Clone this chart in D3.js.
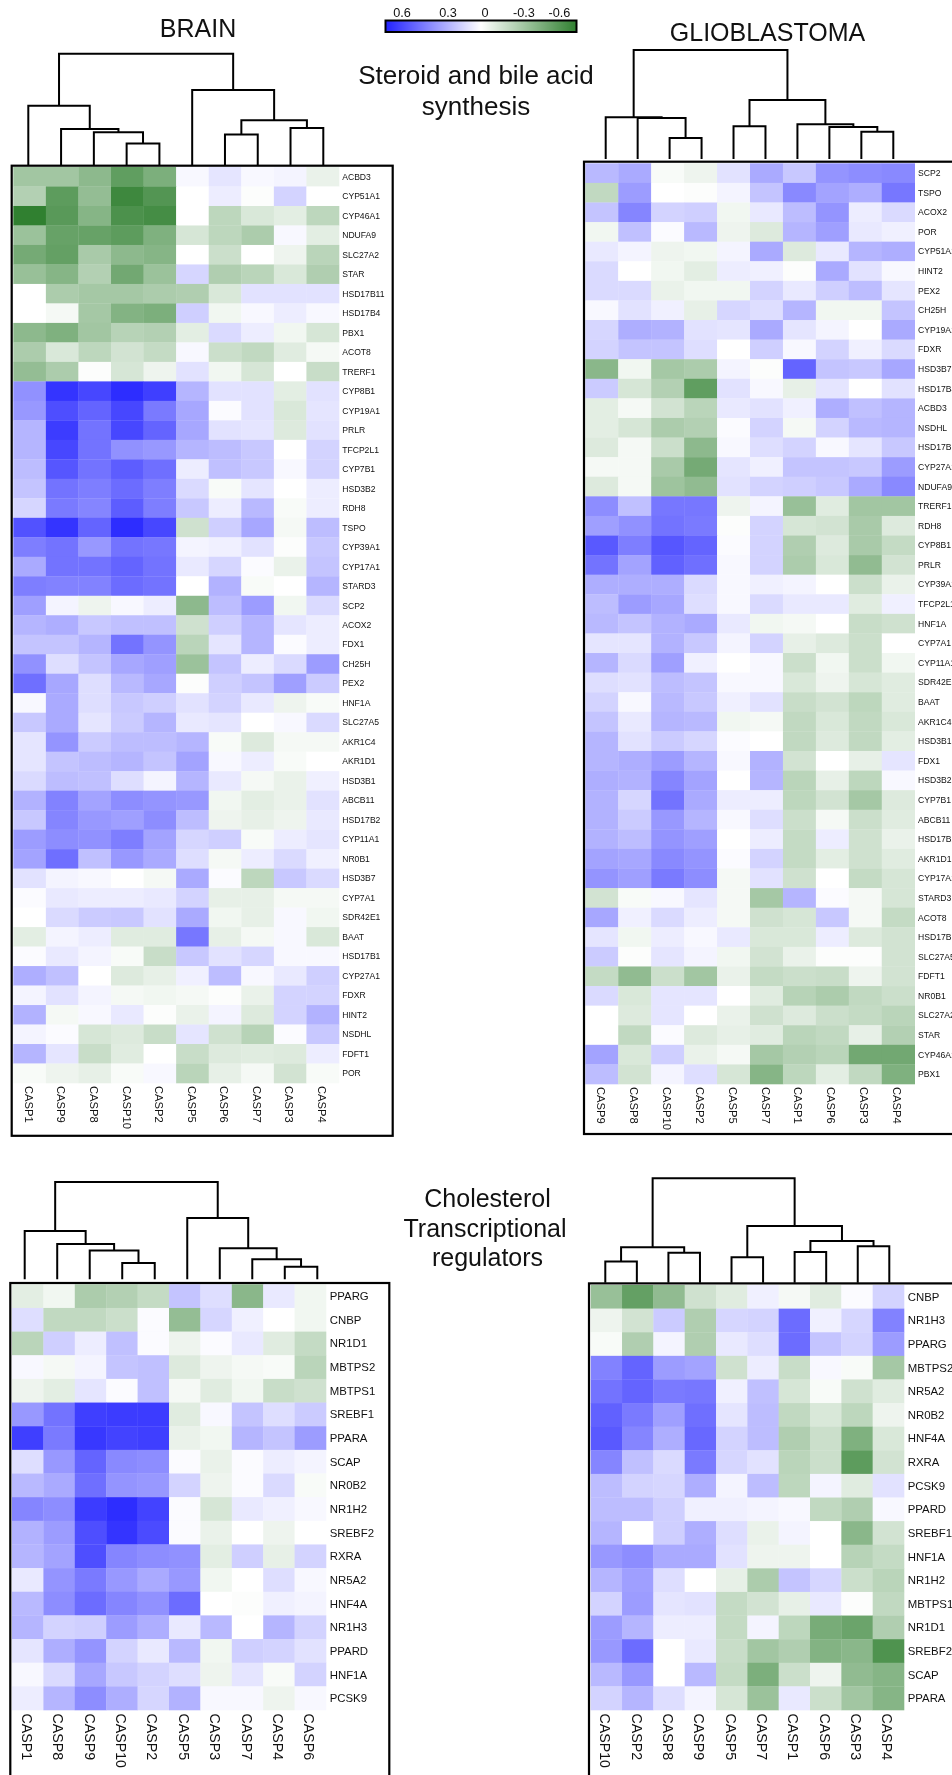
<!DOCTYPE html>
<html>
	<head>
		<meta charset="utf-8">
		<script src="https://cdnjs.cloudflare.com/ajax/libs/d3/7.8.5/d3.min.js"></script>
		<style>
			html, body{
				margin: 0;
				padding: 0;
				background: white;
			}
			svg{
				display: block;
				filter: blur(0.4px);
			}
			text{
				font-family: "Liberation Sans", Arial, sans-serif;
				fill: #111;
			}
			.frame{
				fill: none;
				stroke: #000;
				stroke-width: 2.2px;
			}
			.tree{
				fill: none;
				stroke: #000;
				stroke-width: 2px;
			}
		</style>
	</head>
	<body>
		<svg width="952" height="1775"></svg>
		<script>
			// positive = blue, negative = green
			var brainCols = ["CASP1","CASP9","CASP8","CASP10","CASP2","CASP5","CASP6","CASP7","CASP3","CASP4"];
			var brainRows = ["ACBD3","CYP51A1","CYP46A1","NDUFA9","SLC27A2","STAR","HSD17B11","HSD17B4","PBX1","ACOT8","TRERF1","CYP8B1","CYP19A1","PRLR","TFCP2L1","CYP7B1","HSD3B2","RDH8","TSPO","CYP39A1","CYP17A1","STARD3","SCP2","ACOX2","FDX1","CH25H","PEX2","HNF1A","SLC27A5","AKR1C4","AKR1D1","HSD3B1","ABCB11","HSD17B2","CYP11A1","NR0B1","HSD3B7","CYP7A1","SDR42E1","BAAT","HSD17B1","CYP27A1","FDXR","HINT2","NSDHL","FDFT1","POR"];
			var brainValues = [
				[-.27,-.27,-.33,-.46,-.38,.02,.07,.02,.03,-.06],
				[-.22,-.47,-.31,-.56,-.5,0,.05,-.01,.12,0],
				[-.6,-.48,-.35,-.52,-.54,0,-.19,-.11,-.08,-.19],
				[-.29,-.44,-.44,-.47,-.37,-.12,-.19,-.24,.02,-.08],
				[-.4,-.45,-.25,-.33,-.35,0,-.15,0,-.05,-.2],
				[-.3,-.35,-.22,-.41,-.29,.11,-.23,-.2,-.11,-.23],
				[0,-.24,-.26,-.26,-.24,-.23,-.11,.08,.08,.08],
				[0,-.03,-.26,-.36,-.38,.13,-.04,.02,.05,.02],
				[-.33,-.37,-.27,-.21,-.22,-.08,.1,.05,-.04,-.12],
				[-.24,-.11,-.19,-.13,-.17,.02,-.15,-.18,-.09,-.03],
				[-.31,-.24,-.01,-.12,-.05,.08,-.04,-.12,0,-.16],
				[.3,.55,.5,.57,.52,.2,.08,.08,-.08,.08],
				[.28,.48,.42,.5,.36,.24,.01,.08,-.11,.07],
				[.2,.53,.38,.5,.42,.24,.08,.07,-.1,.08],
				[.2,.5,.38,.3,.28,.2,.18,.15,0,.12],
				[.18,.46,.38,.44,.39,.05,.17,.15,.02,.12],
				[.16,.38,.35,.4,.35,.1,-.02,.07,0,.05],
				[.11,.36,.33,.44,.35,.15,.05,.19,-.02,.05],
				[.47,.55,.42,.57,.5,-.14,.13,.24,-.03,.18],
				[.35,.38,.28,.38,.37,.03,.04,.08,-.01,.15],
				[.23,.38,.38,.42,.38,.06,.11,.01,-.06,.16],
				[.35,.34,.34,.4,.38,0,.21,-.02,0,.2],
				[.26,.03,-.05,.02,.05,-.33,.18,.27,-.04,.1],
				[.2,.22,.15,.17,.17,-.14,.13,.2,.07,.05],
				[.16,.16,.2,.38,.29,-.2,.07,.2,.01,.05],
				[.3,.09,.16,.24,.26,-.29,.16,.05,.1,.27],
				[.39,.24,.09,.19,.24,-.01,.13,.16,.26,.14],
				[.02,.23,.09,.15,.13,.08,.12,.06,-.05,-.02],
				[.15,.23,.07,.14,.2,.06,.07,0,.02,.1],
				[.07,.29,.14,.18,.18,.2,-.02,-.1,-.03,-.03],
				[.07,.16,.18,.2,.16,.25,.02,.05,-.02,0],
				[.1,.18,.17,.09,.03,.2,.06,-.03,-.06,.04],
				[.21,.34,.25,.31,.29,.28,-.04,-.08,-.06,.08],
				[.15,.33,.28,.26,.31,.18,-.05,-.07,-.05,.06],
				[.27,.31,.3,.35,.25,.11,.13,-.02,.05,.07],
				[.25,.39,.17,.28,.23,.09,-.03,.05,.1,.04],
				[.08,.03,.02,0,-.03,.23,.01,-.19,.15,.1],
				[.01,.06,.05,.05,.06,.12,-.07,-.07,-.03,-.03],
				[0,.1,.14,.15,.08,.23,-.04,-.07,.02,-.04],
				[-.08,.03,.05,-.09,-.09,.37,-.07,-.03,.02,-.11],
				[.01,.06,.03,-.02,-.16,.15,.08,.11,.02,.02],
				[.22,.17,0,-.1,-.07,.04,.18,.02,.06,.13],
				[.03,.08,.03,-.03,-.04,-.03,-.01,-.06,.12,.12],
				[.21,-.03,.02,.06,-.01,-.06,.03,-.1,.12,.21],
				[.03,.01,-.12,-.1,-.16,.07,-.14,-.21,.01,.15],
				[.2,.07,-.16,-.09,0,-.16,-.1,-.09,-.1,.05],
				[-.02,-.05,-.07,-.02,.02,-.2,-.07,-.03,-.13,-.02]
			];
			// nested merges: [distance, left, right], numbers are leaves
			var brainTree = [1,[.533,0,[.324,1,[.295,2,[.193,3,4]]]],[.673,5,[.402,[.274,6,7],[.333,8,9]]]];

			var gbmCols = ["CASP9","CASP8","CASP10","CASP2","CASP5","CASP7","CASP1","CASP6","CASP3","CASP4"];
			var gbmRows = ["SCP2","TSPO","ACOX2","POR","CYP51A1","HINT2","PEX2","CH25H","CYP19A1","FDXR","HSD3B7","HSD17B4","ACBD3","NSDHL","HSD17B11","CYP27A1","NDUFA9","TRERF1","RDH8","CYP8B1","PRLR","CYP39A1","TFCP2L1","HNF1A","CYP7A1","CYP11A1","SDR42E1","BAAT","AKR1C4","HSD3B1","FDX1","HSD3B2","CYP7B1","ABCB11","HSD17B2","AKR1D1","CYP17A1","STARD3","ACOT8","HSD17B1","SLC27A5","FDFT1","NR0B1","SLC27A2","STAR","CYP46A1","PBX1"];
			var gbmValues = [
				[.19,.23,-.02,-.05,.08,.23,.15,.29,.31,.32],
				[-.18,.27,0,-.01,.03,.16,.32,.25,.22,.37],
				[.16,.33,.12,.13,-.04,.06,.18,.29,.05,.1],
				[-.04,.17,.01,.19,-.05,-.1,.2,.26,.06,.04],
				[.06,.03,-.05,-.04,.03,.23,-.1,.06,.2,.22],
				[.1,0,-.04,-.08,.05,.04,-.01,.23,.08,.02],
				[.1,.1,-.06,-.04,-.04,.12,.06,.13,.18,.07],
				[.02,.08,.04,-.07,.11,.09,.2,-.04,-.04,.16],
				[.11,.22,.21,.08,.07,.23,.07,.03,0,.23],
				[.12,.16,.16,.09,0,.13,.02,.12,.04,.1],
				[-.34,-.04,-.26,-.24,.03,-.01,.42,.16,.15,.24],
				[.14,-.12,-.22,-.46,.08,.02,-.07,.07,0,.08],
				[-.08,-.03,-.13,-.2,.06,.08,.04,.22,.17,.2],
				[-.08,-.12,-.24,-.22,.01,.12,-.03,.12,.19,.2],
				[-.1,-.03,-.15,-.33,.02,.09,.12,.02,.07,.15],
				[-.03,-.03,-.25,-.4,.07,.04,.16,.16,.15,.27],
				[-.1,-.03,-.28,-.32,.08,.12,.13,.15,.23,.32],
				[.31,.17,.37,.37,-.05,.03,-.3,-.09,-.27,-.27],
				[.26,.3,.38,.36,-.01,.12,-.12,-.13,-.25,-.1],
				[.45,.35,.46,.42,.01,.12,-.23,-.1,-.25,-.17],
				[.38,.25,.43,.39,.02,.12,-.24,-.11,-.32,-.13],
				[.22,.22,.22,.1,.02,.04,.03,0,-.15,-.06],
				[.18,.27,.24,.09,.02,.1,.06,.06,-.09,.04],
				[.19,.16,.21,.23,.06,-.04,-.03,0,-.16,-.14],
				[.07,.07,.21,.15,.03,.12,-.07,-.1,-.15,0],
				[.2,.1,.26,.04,0,.02,-.15,-.04,-.15,-.04],
				[.09,.08,.18,.16,.02,.02,-.11,-.05,-.12,-.09],
				[.12,.02,.19,.15,.04,.08,-.16,-.13,-.19,-.09],
				[.16,.06,.2,.19,-.04,-.03,-.18,-.11,-.18,-.11],
				[.2,.08,.14,.11,.01,0,-.18,-.1,-.18,-.08],
				[.2,.22,.27,.2,.02,.21,-.13,0,-.07,.07],
				[.22,.21,.33,.25,0,.2,-.2,-.07,-.19,.02],
				[.21,.11,.38,.23,.05,.05,-.19,-.13,-.26,-.1],
				[.21,.14,.28,.2,.02,.09,-.15,-.03,-.15,-.09],
				[.21,.18,.29,.26,0,.05,-.17,.05,-.14,-.06],
				[.25,.24,.32,.29,.01,.12,-.17,-.08,-.14,-.09],
				[.29,.26,.36,.31,-.03,.08,-.14,0,-.17,-.12],
				[-.13,-.02,.02,.07,-.03,-.26,.2,.01,-.03,-.12],
				[.24,.04,.1,.05,-.03,-.14,-.12,.15,-.03,-.17],
				[.07,-.04,.05,.02,.06,-.11,-.11,.05,-.1,-.13],
				[.14,-.01,.07,.03,-.04,-.13,-.06,-.01,-.01,-.13],
				[-.17,-.32,-.15,-.27,-.06,-.17,-.15,-.16,-.05,-.13],
				[.1,-.11,.07,.07,0,-.09,-.21,-.24,-.18,-.15],
				[0,-.1,.07,0,-.06,-.14,-.1,-.15,-.17,-.2],
				[0,-.18,.01,-.1,-.07,-.09,-.2,-.18,-.07,-.22],
				[.25,-.11,.13,-.06,-.03,-.26,-.22,-.2,-.41,-.41],
				[.18,-.13,.03,.09,-.12,-.35,-.19,-.08,-.18,-.37]
			];
			var gbmTree = [1,[.382,0,[.376,1,[.193,2,3]]],[.541,[.3,4,5],[.318,6,[.294,7,[.251,8,9]]]]];

			var cholBrainCols = ["CASP1","CASP8","CASP9","CASP10","CASP2","CASP5","CASP3","CASP7","CASP4","CASP6"];
			var cholBrainRows = ["PPARG","CNBP","NR1D1","MBTPS2","MBTPS1","SREBF1","PPARA","SCAP","NR0B2","NR1H2","SREBF2","RXRA","NR5A2","HNF4A","NR1H3","PPARD","HNF1A","PCSK9"];
			var cholBrainValues = [
				[-.08,-.04,-.24,-.22,-.17,.16,.09,-.34,.06,-.04],
				[.09,-.18,-.18,-.15,.01,-.31,.11,.04,0,-.04],
				[-.2,.13,.05,.17,.01,-.05,.01,.06,-.09,-.17],
				[.02,-.03,.03,.16,.17,-.1,-.05,-.03,-.02,-.2],
				[-.05,-.08,.07,.01,.17,-.03,-.09,-.04,-.16,-.14],
				[.28,.38,.52,.53,.53,-.09,.02,.16,.09,.14],
				[.52,.36,.54,.51,.52,-.06,-.04,.2,.16,.27],
				[.09,.28,.42,.32,.31,.01,-.06,.01,.05,.03],
				[.19,.23,.39,.29,.28,.12,-.05,.01,.1,-.02],
				[.33,.31,.53,.57,.51,.01,-.12,.06,.04,.02],
				[.21,.27,.48,.55,.49,.01,-.06,0,-.05,0],
				[.2,.25,.48,.33,.31,.3,-.08,.13,-.07,.12],
				[.06,.29,.36,.28,.23,.28,-.04,0,.09,.02],
				[.19,.31,.4,.33,.3,.4,0,-.01,.04,.03],
				[.2,.12,.13,.27,.22,.06,.19,0,.2,.12],
				[.07,.22,.29,.12,.06,.19,-.04,.13,.12,.08],
				[.02,.1,.24,.15,.12,.09,-.05,.07,-.02,.12],
				[.05,.2,.31,.22,.11,.21,.02,.02,-.05,.02]
			];
			var cholBrainTree = [1,[.497,0,[.363,1,[.295,2,[.168,3,4]]]],[.63,5,[.318,6,[.205,7,[.13,8,9]]]]];

			var cholGbmCols = ["CASP10","CASP2","CASP8","CASP9","CASP5","CASP7","CASP1","CASP6","CASP3","CASP4"];
			var cholGbmRows = ["CNBP","NR1H3","PPARG","MBTPS2","NR5A2","NR0B2","HNF4A","RXRA","PCSK9","PPARD","SREBF1","HNF1A","NR1H2","MBTPS1","NR1D1","SREBF2","SCAP","PPARA"];
			var cholGbmValues = [
				[-.3,-.45,-.32,-.14,-.09,.04,-.03,-.09,.01,.12],
				[-.05,-.13,.14,-.23,.11,.12,.4,.04,.11,.34],
				[-.02,-.23,.03,-.23,.06,.09,.4,.16,.12,.27],
				[.34,.42,.27,.25,-.14,.05,-.16,.02,-.02,-.26],
				[.38,.42,.36,.37,.04,.17,-.12,-.02,-.14,-.09],
				[.43,.36,.26,.39,.07,.18,-.18,-.11,-.19,-.05],
				[.45,.33,.22,.41,.12,.18,-.23,-.15,-.37,-.11],
				[.33,.17,.1,.36,.11,.08,-.2,-.15,-.47,-.13],
				[.18,.12,.11,.22,.03,.18,-.19,.03,-.09,.08],
				[.18,.18,.13,.04,.04,.03,.02,-.18,-.23,.02],
				[.2,0,.13,.22,.09,-.06,.03,0,-.34,-.13],
				[.28,.31,.23,.23,.08,-.05,-.05,0,-.21,-.17],
				[.2,.26,.09,0,-.07,-.24,.16,.11,-.15,-.2],
				[.12,.27,.07,.08,-.17,-.13,-.07,.06,-.01,-.18],
				[.27,.2,.05,.05,-.17,.03,-.19,-.39,-.43,-.23],
				[.28,.4,0,.06,-.16,-.27,-.23,-.36,-.34,-.51],
				[.19,.28,0,.19,-.17,-.38,-.15,-.05,-.32,-.35],
				[.12,.2,.09,.03,-.12,-.29,.06,-.15,-.27,-.35]
			];
			var cholGbmTree = [1,[.339,[.204,0,1],[.288,2,3]],[.543,[.243,4,5],[.399,[.294,6,7],[.348,8,9]]]];

			var legendTicks = [0.6, 0.3, 0, -0.3, -0.6];
			var legendLabels = ["0.6", "0.3", "0", "-0.3", "-0.6"];

			var svg = d3.select("svg");
			var color = d3.scaleLinear().domain([0.6, 0, -0.6]).range(["#2222ff", "#ffffff", "#308030"]);

			function drawTree(g, node, xScale, yScale){
				if(typeof node === "number"){
					return {x: xScale(node), y: yScale(0)};
				}
				var left = drawTree(g, node[1], xScale, yScale);
				var right = drawTree(g, node[2], xScale, yScale);
				var y = yScale(node[0]);
				g.append("path")
					.attr("class", "tree")
					.attr("d", d3.line()([[left.x, left.y], [left.x, y], [right.x, y], [right.x, right.y]]));
				return {x: (left.x + right.x) / 2, y: y};
			}

			function drawPanel(opt){
				var g = svg.append("g");
				var x = d3.scaleBand().domain(opt.cols).range(opt.cellX);
				var y = d3.scaleBand().domain(opt.rows).range(opt.cellY);

				opt.values.forEach(function(row, i){
					g.selectAll(null)
						.data(row).enter().append("rect")
						.attr("x", function(d, j){ return x(opt.cols[j]); })
						.attr("y", y(opt.rows[i]))
						.attr("width", x.bandwidth() + 0.3)
						.attr("height", y.bandwidth() + 0.3)
						.attr("fill", function(d){ return color(d); });
				});

				g.selectAll(null)
					.data(opt.rows).enter().append("text")
					.attr("x", opt.cellX[1] + opt.rowGap)
					.attr("y", function(d){ return y(d) + y.bandwidth() / 2; })
					.attr("dy", "0.35em")
					.attr("font-size", opt.rowFont)
					.text(function(d){ return d; });

				g.selectAll(null)
					.data(opt.cols).enter().append("text")
					.attr("transform", function(d){
						return "translate(" + (x(d) + x.bandwidth() / 2 + opt.colShift) + "," + (opt.cellY[1] + opt.colGap) + ") rotate(90)";
					})
					.attr("dy", "0.35em")
					.attr("font-size", opt.colFont)
					.text(function(d){ return d; });

				g.append("rect")
					.attr("class", "frame")
					.attr("x", opt.frame[0])
					.attr("y", opt.frame[1])
					.attr("width", opt.frame[2] - opt.frame[0])
					.attr("height", opt.frame[3] - opt.frame[1]);

				var leafX = d3.scalePoint().domain(d3.range(opt.cols.length)).range(opt.leafX);
				var distY = d3.scaleLinear().domain([0, 1]).range(opt.treeY);
				drawTree(g, opt.tree, leafX, distY);
			}

			drawPanel({
				cols: brainCols, rows: brainRows, values: brainValues, tree: brainTree,
				cellX: [13.3, 339], cellY: [167, 1083],
				frame: [11.7, 165.7, 392.7, 1135.8],
				leafX: [28.3, 323.3], treeY: [165, 53.7],
				rowGap: 3.2, rowFont: "8.6px", colGap: 3, colFont: "11.2px", colShift: -0.8
			});
			drawPanel({
				cols: gbmCols, rows: gbmRows, values: gbmValues, tree: gbmTree,
				cellX: [585.3, 914.7], cellY: [163.3, 1084],
				frame: [584, 161.7, 970, 1134],
				leafX: [605.7, 893.3], treeY: [159, 50],
				rowGap: 3.3, rowFont: "8.6px", colGap: 3, colFont: "11.2px", colShift: -1
			});
			drawPanel({
				cols: cholBrainCols, rows: cholBrainRows, values: cholBrainValues, tree: cholBrainTree,
				cellX: [12, 326], cellY: [1284.3, 1710],
				frame: [10.3, 1283, 389.3, 1800],
				leafX: [24.7, 317.3], treeY: [1279.3, 1182],
				rowGap: 3.7, rowFont: "11.4px", colGap: 3.5, colFont: "14.2px", colShift: -1
			});
			drawPanel({
				cols: cholGbmCols, rows: cholGbmRows, values: cholGbmValues, tree: cholGbmTree,
				cellX: [590.7, 904], cellY: [1285, 1710],
				frame: [589, 1283.4, 970, 1800],
				leafX: [605.3, 889.3], treeY: [1282.7, 1178.3],
				rowGap: 3.7, rowFont: "11.4px", colGap: 3.5, colFont: "14.2px", colShift: -1
			});

			function title(lines){
				lines.forEach(function(t){
					svg.append("text")
						.attr("x", t[1])
						.attr("y", t[2])
						.attr("text-anchor", "middle")
						.attr("font-size", t[3])
						.text(t[0]);
				});
			}
			title([
				["BRAIN", 198, 37, "25px"],
				["GLIOBLASTOMA", 767.5, 40.7, "25px"],
				["Steroid and bile acid", 476, 84, "26px"],
				["synthesis", 476, 115, "26px"],
				["Cholesterol", 487.5, 1206.7, "25px"],
				["Transcriptional", 485, 1236.7, "25px"],
				["regulators", 487.5, 1266, "25px"]
			]);

			// colour key
			var defs = svg.append("defs");
			var grad = defs.append("linearGradient").attr("id", "key");
			var keyPos = d3.scaleLinear().domain([0.6, -0.6]).range([0, 1]);
			d3.range(0.6, -0.61, -0.1).forEach(function(v){
				grad.append("stop").attr("offset", keyPos(v)).attr("stop-color", color(v));
			});
			svg.append("rect")
				.attr("x", 385.5).attr("y", 20.5)
				.attr("width", 191).attr("height", 11.5)
				.attr("fill", "url(#key)")
				.attr("stroke", "#000")
				.attr("stroke-width", 2);
			var keyX = d3.scaleLinear().domain(legendTicks).range([402, 448, 485, 524, 559.5]);
			svg.selectAll(null)
				.data(legendTicks).enter().append("text")
				.attr("x", function(d){ return keyX(d); })
				.attr("y", 16.8)
				.attr("text-anchor", "middle")
				.attr("font-size", "12.7px")
				.text(function(d, i){ return legendLabels[i]; });
		</script>
	</body>
</html>
